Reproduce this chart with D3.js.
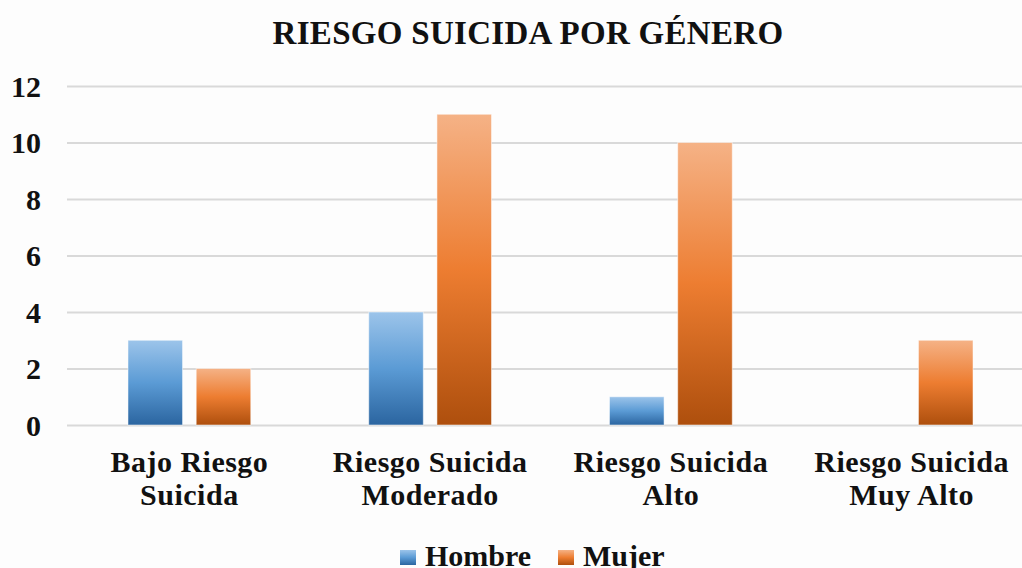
<!DOCTYPE html>
<html>
<head>
<meta charset="utf-8">
<script src="https://cdn.jsdelivr.net/npm/d3@7"></script>
<style>
  body { margin: 0; background: #fdfdfd; }
  svg { display: block; }
</style>
</head>
<body>
<div id="chartContainer"></div>
<script>
const categories = [["Bajo Riesgo", "Suicida"], ["Riesgo Suicida", "Moderado"], ["Riesgo Suicida", "Alto"], ["Riesgo Suicida", "Muy Alto"]];
const seriesNames = ["Hombre", "Mujer"];
const hombre = [3, 4, 1, 0];
const mujer = [2, 11, 10, 3];
const yTicks = [0, 2, 4, 6, 8, 10, 12];
const title = "RIESGO SUICIDA POR GÉNERO";

const width = 1022;
const height = 568;
const marginLeft = 69;
const plotRight = 1032;
const yTop = 86;
const yBottom = 425;
const serif = "'Liberation Serif', 'Times New Roman', serif";

var svg = d3.select("#chartContainer").append("svg")
    .attr("width", width).attr("height", height)
    .attr("font-family", serif)
    .attr("font-weight", "bold");

// gradients like the office style
var defs = svg.append("defs");
var gradStops = {
    Hombre: ["#9cc4ea", "#5b9bd5", "#2b65a0"],
    Mujer: ["#f5b286", "#ed7d31", "#ae4f0d"]
};
seriesNames.forEach(function (s) {
    var g = defs.append("linearGradient").attr("id", "grad" + s)
        .attr("x1", 0).attr("y1", 0).attr("x2", 0).attr("y2", 1);
    g.append("stop").attr("offset", "0%").attr("stop-color", gradStops[s][0]);
    g.append("stop").attr("offset", "50%").attr("stop-color", gradStops[s][1]);
    g.append("stop").attr("offset", "100%").attr("stop-color", gradStops[s][2]);
});

var x0 = d3.scaleBand()
    .domain(d3.range(categories.length))
    .range([marginLeft, plotRight])
    .paddingInner(0.49)
    .paddingOuter(0.245);
var x1 = d3.scaleBand()
    .domain(seriesNames)
    .range([0, x0.bandwidth()])
    .paddingInner(0.2);
var y = d3.scaleLinear().domain([0, 12]).range([yBottom, yTop]);

// title
svg.append("text")
    .attr("x", 528).attr("y", 44)
    .attr("text-anchor", "middle")
    .style("font-family", serif)
    .style("font-size", "33px")
    .style("letter-spacing", "0.3px")
    .attr("fill", "#111")
    .text(title);

// gridlines
svg.append("g")
    .attr("transform", "translate(" + (marginLeft - 2) + ",0)")
    .call(d3.axisLeft(y).tickValues(yTicks).tickFormat("").tickSize(-(plotRight - marginLeft + 2)))
    .call(g => g.select(".domain").remove())
    .call(g => g.selectAll("line").attr("stroke", "#d9d9d9").attr("stroke-width", 2));

// y labels
svg.append("g")
    .attr("transform", "translate(41,0)")
    .call(d3.axisLeft(y).tickValues(yTicks).tickSize(0).tickPadding(0))
    .call(g => g.select(".domain").remove())
    .call(g => g.selectAll("text")
        .style("font-family", serif)
        .style("font-weight", "bold")
        .style("font-size", "30px")
        .attr("fill", "#111")
        .attr("dy", "0.34em"));

// bars
var data = categories.map(function (c, i) {
    return { idx: i, values: [{ key: "Hombre", v: hombre[i] }, { key: "Mujer", v: mujer[i] }] };
});
var groups = svg.append("g").selectAll("g").data(data).join("g")
    .attr("transform", d => "translate(" + x0(d.idx) + ",0)");
groups.selectAll("rect").data(d => d.values.filter(o => o.v > 0)).join("rect")
    .attr("x", d => x1(d.key))
    .attr("width", x1.bandwidth())
    .attr("y", d => y(d.v))
    .attr("height", d => y(0) - y(d.v))
    .attr("fill", d => "url(#grad" + d.key + ")")
    .attr("stroke", "#ffffff")
    .attr("stroke-opacity", 0.5)
    .attr("stroke-width", 1);

// category labels
var catLabels = svg.append("g").selectAll("text").data(categories).join("text")
    .attr("text-anchor", "middle")
    .attr("x", (d, i) => x0(i) + x0.bandwidth() / 2)
    .attr("y", 472)
    .attr("fill", "#111")
    .style("font-family", serif)
    .style("font-size", "30px")
    .style("letter-spacing", "0.5px");
catLabels.selectAll("tspan").data(d => d).join("tspan")
    .attr("x", function () { return d3.select(this.parentNode).attr("x"); })
    .attr("dy", (d, i) => i === 0 ? 0 : 33)
    .text(d => d);

// legend
var legendX = [400, 558];
var legend = svg.append("g").selectAll("g").data(seriesNames).join("g")
    .attr("transform", (d, i) => "translate(" + legendX[i] + ",550)");
legend.append("rect")
    .attr("width", 16).attr("height", 15)
    .attr("fill", d => "url(#grad" + d + ")");
legend.append("text")
    .attr("x", 25).attr("y", 16)
    .attr("fill", "#111")
    .style("font-family", serif)
    .style("font-size", "30px")
    .text(d => d);
</script>
</body>
</html>
